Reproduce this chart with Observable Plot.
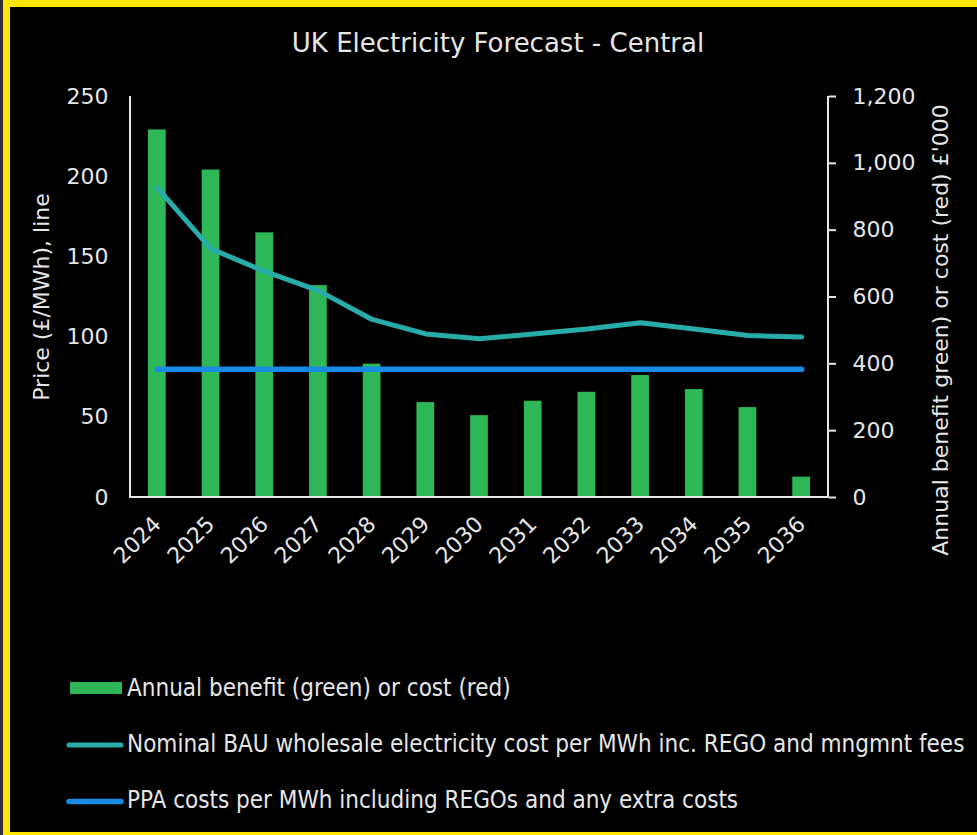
<!DOCTYPE html>
<html>
<head>
<meta charset="utf-8">
<script src="https://cdn.jsdelivr.net/npm/d3@7"></script>
<script src="https://cdn.jsdelivr.net/npm/@observablehq/plot@0.6"></script>
<style>
  html, body { margin: 0; padding: 0; width: 977px; height: 835px; overflow: hidden; background: #2f2f35; }
  #frame { position: absolute; left: 3px; top: 0; width: 1000px; height: 835px; box-sizing: border-box;
           background: #000; border-left: 7px solid #FFE600; border-top: 7px solid #FFE600; border-bottom: 3px solid #FFE600; }
  #chart { position: absolute; left: 0; top: 0; }
  #overlay { position: absolute; left: 0; top: 0; pointer-events: none; }
</style>
</head>
<body>
<div id="frame"></div>
<div id="chart"></div>
<svg id="overlay" width="977" height="835"></svg>
<script>
// ---- data ----
const years = ["2024","2025","2026","2027","2028","2029","2030","2031","2032","2033","2034","2035","2036"];
const annualBenefit = [1100, 980, 792, 634, 399, 284, 245, 288, 315, 365, 323, 269, 61]; // £'000 (right axis)
const bauPrice = [193, 155, 141, 129, 111, 102, 99, 102, 105, 109, 105, 101, 100];      // £/MWh (left axis)
const ppaPrice = [80, 80, 80, 80, 80, 80, 80, 80, 80, 80, 80, 80, 80];                   // £/MWh (left axis)
const leftTicks = [0, 50, 100, 150, 200, 250];
const rightTicks = [0, 200, 400, 600, 800, 1000, 1200];
const leftMax = 250, rightMax = 1200;

const titleText = "UK Electricity Forecast - Central";
const leftLabel = "Price (£/MWh), line";
const rightLabel = "Annual benefit green) or cost (red) £'000";
const legendLabels = [
  "Annual benefit (green) or cost (red)",
  "Nominal BAU wholesale electricity cost per MWh inc. REGO and mngmnt fees",
  "PPA costs per MWh including REGOs and any extra costs"
];

const GREEN = "#2DB757", TEAL = "#27ACAA", BLUE = "#188CE5", INK = "#e6e6e6";
const RATIO = leftMax / rightMax;

const rows = years.map((year, i) => ({year, benefit: annualBenefit[i], bau: bauPrice[i], ppa: ppaPrice[i]}));

function axisLines(index, scales, values, dims) {
  const {width, height, marginTop, marginRight, marginBottom, marginLeft} = dims;
  const x0 = marginLeft, x1 = width - marginRight, y0 = marginTop, y1 = height - marginBottom;
  const g = d3.create("svg:g").attr("stroke", INK).attr("stroke-width", 2).attr("fill", "none");
  g.append("path").attr("d", `M${x0},${y0}V${y1}H${x1}V${y0}`);
  return g.node();
}

const chart = Plot.plot({
  width: 977,
  height: 600,
  marginTop: 96,
  marginBottom: 103,
  marginLeft: 130,
  marginRight: 149,
  style: {background: "transparent", color: INK, fontFamily: "'DejaVu Sans', sans-serif", fontSize: "22px", overflow: "visible"},
  x: {type: "band", domain: years, paddingInner: 0.67, paddingOuter: 0.335, round: false},
  y: {domain: [0, leftMax]},
  marks: [
    Plot.barY(rows, {x: "year", y: d => d.benefit * RATIO, fill: GREEN}),
    Plot.lineY(rows, {x: "year", y: "ppa", stroke: BLUE, strokeWidth: 5.5, strokeLinecap: "round"}),
    Plot.lineY(rows, {x: "year", y: "bau", stroke: TEAL, strokeWidth: 5, strokeLinecap: "round", strokeLinejoin: "round"}),
    axisLines,
    Plot.axisY({anchor: "left", ticks: leftTicks, tickSize: 0, tickPadding: 22, label: null}),
    Plot.axisY({anchor: "right", ticks: rightTicks.map(v => v * RATIO), tickSize: 7, tickPadding: 17,
      tickFormat: v => d3.format(",")(Math.round(v / RATIO)), label: null, strokeWidth: 2}),
    Plot.axisX({anchor: "bottom", tickSize: 0, tickRotate: -45, tickPadding: 23, label: null})
  ]
});
document.getElementById("chart").appendChild(chart);

// ---- titles and legend ----
const ov = d3.select("#overlay").style("font-family", "'DejaVu Sans', sans-serif").attr("fill", INK);
ov.append("text").attr("x", 498).attr("y", 52).attr("text-anchor", "middle").attr("font-size", 26).text(titleText);
ov.append("text").attr("transform", "translate(49,297) rotate(-90)").attr("text-anchor", "middle").attr("font-size", 22).text(leftLabel);
ov.append("text").attr("transform", "translate(948,330) rotate(-90)").attr("text-anchor", "middle").attr("font-size", 22).text(rightLabel);

const lg = ov.append("g").style("font-family", "'DejaVu Sans Condensed', 'DejaVu Sans', sans-serif").attr("font-size", 24);
lg.append("rect").attr("x", 70).attr("y", 682).attr("width", 52).attr("height", 12).attr("fill", GREEN);
lg.append("line").attr("x1", 69).attr("x2", 121).attr("y1", 745).attr("y2", 745).attr("stroke", TEAL).attr("stroke-width", 5).attr("stroke-linecap", "round");
lg.append("line").attr("x1", 69).attr("x2", 121).attr("y1", 801.5).attr("y2", 801.5).attr("stroke", BLUE).attr("stroke-width", 5.5).attr("stroke-linecap", "round");
[696, 752, 808].forEach((y, i) => lg.append("text").attr("x", 127).attr("y", y).text(legendLabels[i]));
</script>
</body>
</html>
